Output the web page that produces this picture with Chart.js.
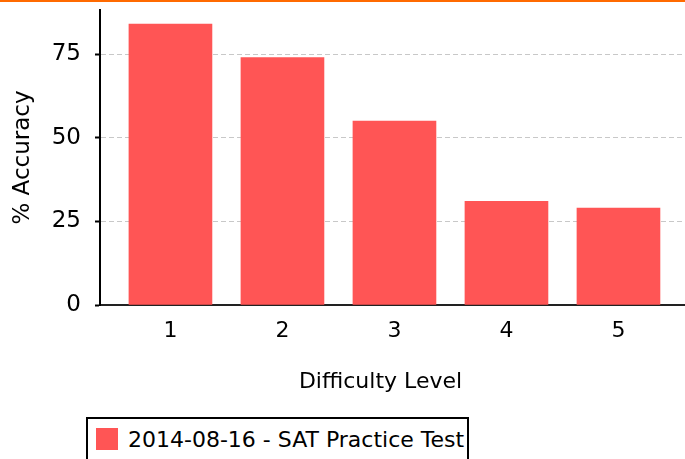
<!DOCTYPE html>
<html>
<head>
<meta charset="utf-8">
<script src="https://cdn.jsdelivr.net/npm/chart.js@4.4.1/dist/chart.umd.min.js"></script>
<style>
  html, body { margin: 0; padding: 0; background: #fff; }
  #wrap { position: relative; width: 685px; height: 459px; overflow: hidden; }
  #topline { position: absolute; left: 0; top: 0; width: 685px; height: 2px; background: #ff6a00; }
  #c { position: absolute; left: 0; top: 0; }
  #legend { position: absolute; left: 86px; top: 417px; height: 50px; border: 2px solid #000; background: #fff;
            font-family: "DejaVu Sans", sans-serif; font-size: 22px; color: #000; box-sizing: border-box;
            padding: 0 3px 0 8px; white-space: nowrap; }
  #legend .sw { display: inline-block; width: 22px; height: 22px; vertical-align: -3px; margin-right: 10px; }
  #legend .row { line-height: 42px; }
</style>
</head>
<body>
<div id="wrap">
  <canvas id="c" width="685" height="459"></canvas>
  <div id="topline"></div>
  <div id="legend"></div>
</div>
<script>
const categories = ["1", "2", "3", "4", "5"];
const accuracy = [84, 74, 55, 31, 29];
const yTicks = [0, 25, 50, 75];
const seriesName = "2014-08-16 - SAT Practice Test";
const xTitle = "Difficulty Level";
const yTitle = "% Accuracy";
const barColor = "#ff5555";
const FONT = "DejaVu Sans";

const shiftTitle = {
  id: 'shiftTitle',
  afterLayout(chart) {
    const s = chart.scales.x;
    if (s._shifted) return;
    const orig = s.drawTitle;
    s.drawTitle = function (...a) {
      const c = this.ctx;
      c.save(); c.translate(-12, 0); orig.apply(this, a); c.restore();
    };
    s._shifted = true;
  }
};

const ctx = document.getElementById('c').getContext('2d');
const chart = new Chart(ctx, {
  type: 'bar',
  plugins: [shiftTitle],
  data: {
    datasets: [{
      label: seriesName,
      data: categories.map((c, i) => ({ x: Number(c), y: accuracy[i] })),
      backgroundColor: barColor,
      borderWidth: 0,
      barThickness: 83
    }]
  },
  options: {
    responsive: false,
    animation: false,
    devicePixelRatio: 1,
    layout: { padding: { top: 10, right: 0, left: 0, bottom: 0 } },
    plugins: { legend: { display: false }, tooltip: { enabled: false } },
    scales: {
      x: {
        type: 'linear',
        offset: false,
        min: 0.371,
        max: 5.594,
        afterBuildTicks: (s) => { s.ticks = categories.map(c => ({ value: Number(c) })); },
        afterFit: (s) => { s.height = 154; s.paddingLeft = 0; s.paddingRight = 0; },
        grid: { display: false, drawTicks: false },
        border: { display: true, color: '#222', width: 2 },
        ticks: {
          padding: 13,
          color: '#000',
          font: { family: FONT, size: 22 },
          callback: (v) => categories[categories.indexOf(String(v))] ?? ''
        },
        title: { display: true, text: xTitle, color: '#000', font: { family: FONT, size: 22 },
                 padding: { top: 0, bottom: 64 } }
      },
      y: {
        min: 0,
        max: 88.2,
        afterBuildTicks: (s) => { s.ticks = yTicks.map(v => ({ value: v })); },
        afterFit: (s) => { s.width = 100; s.paddingTop = 0; s.paddingBottom = 0; },
        grid: { color: '#c8c8c8', lineWidth: 1, tickColor: '#000', tickBorderDash: [],
                tickWidth: 2, tickLength: 5, drawTicks: true },
        border: { display: true, color: '#000', width: 2, dash: [5, 3] },
        ticks: { padding: 14, color: '#000', font: { family: FONT, size: 23 } },
        title: { display: true, text: yTitle, color: '#000', font: { family: FONT, size: 23 },
                 padding: { top: 9, bottom: 0 } }
      }
    }
  }
});

const lg = document.getElementById('legend');
chart.data.datasets.forEach(ds => {
  const row = document.createElement('div');
  row.className = 'row';
  const sw = document.createElement('span');
  sw.className = 'sw';
  sw.style.background = ds.backgroundColor;
  row.appendChild(sw);
  row.appendChild(document.createTextNode(ds.label));
  lg.appendChild(row);
});
</script>
</body>
</html>
